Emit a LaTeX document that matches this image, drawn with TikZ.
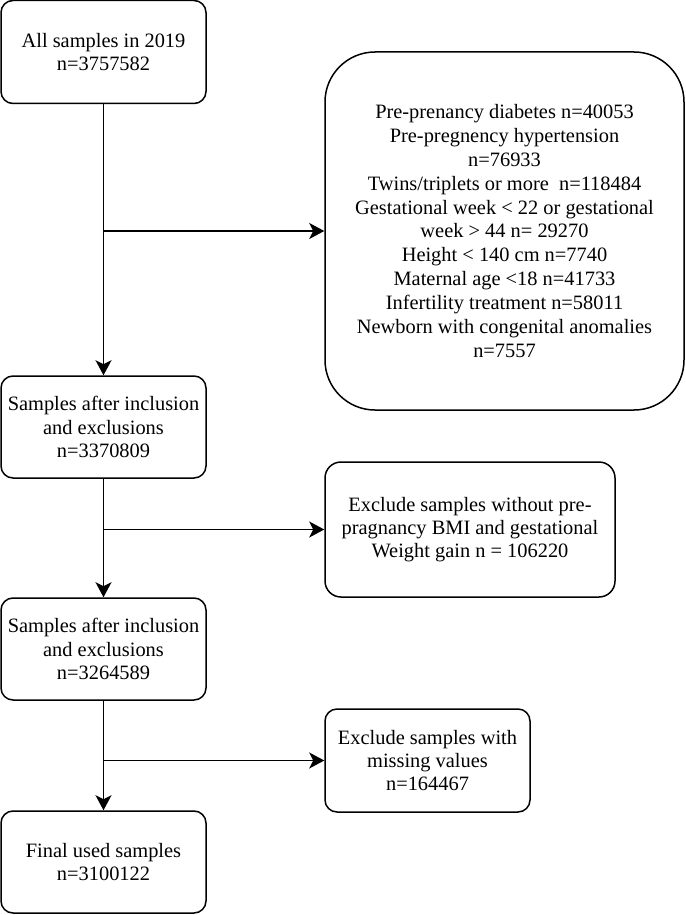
\documentclass[tikz,border=0pt]{standalone}
\usepackage{fontspec}
\setmainfont{Liberation Serif}
\usetikzlibrary{arrows.meta, positioning}
\tikzstyle{arrow} = [line width=0.75pt,-{Stealth[length=7.5pt,width=8pt,inset=2pt]}]
\tikzstyle{stage} = [rectangle, rounded corners=6pt, minimum width=102.5pt, minimum height=51pt, align=center, draw=black, line width=0.75pt, font=\fontsize{10.2}{11.6}\selectfont]

\begin{document}
\begin{tikzpicture}[x=0.5pt, y=-0.5pt]
\useasboundingbox (0,0) rectangle (685,915);

% Main flow
\node (all) [stage, minimum height=51.5pt] at (103.5,52) {All samples in 2019\\n=3757582};
\node (after_first) [stage] at (103.5,427) {Samples after inclusion\\and exclusions\\n=3370809};
\node (after_bmi) [stage] at (103.5,649) {Samples after inclusion\\and exclusions\\n=3264589};
\node (final) [stage] at (103.5,862) {Final used samples\\n=3100122};

% Exclusions
\node (excl_criteria) [stage, rounded corners=25pt, minimum width=179.5pt, minimum height=179pt, font=\fontsize{10.2}{11.95}\selectfont] at (504.5,231) {Pre-prenancy diabetes n=40053\\Pre-pregnency hypertension\\n=76933\\ Twins/triplets or more~ n=118484\\Gestational week < 22 or gestational\\week > 44 n= 29270\\Height < 140 cm n=7740\\Maternal age <18 n=41733\\Infertility treatment n=58011\\Newborn with congenital anomalies\\n=7557};
\node (excl_bmi) [stage, rounded corners=8pt, minimum width=145pt, minimum height=67.5pt] at (470,529.5) {Exclude samples without pre-\\pragnancy BMI and gestational\\Weight gain n = 106220};
\node (excl_missing) [stage, minimum width=102.5pt, minimum height=51.5pt] at (427.5,760.5) {Exclude samples with\\missing values\\n=164467};

% Connections
\draw [arrow] (all.south) -- (after_first.north);
\draw [arrow] (all.south |- excl_criteria.west) -- (excl_criteria.west);
\draw [arrow] (after_first.south) -- (after_bmi.north);
\draw [arrow] (after_first.south |- excl_bmi.west) -- (excl_bmi.west);
\draw [arrow] (after_bmi.south) -- (final.north);
\draw [arrow] (after_bmi.south |- excl_missing.west) -- (excl_missing.west);

\end{tikzpicture}
\end{document}
